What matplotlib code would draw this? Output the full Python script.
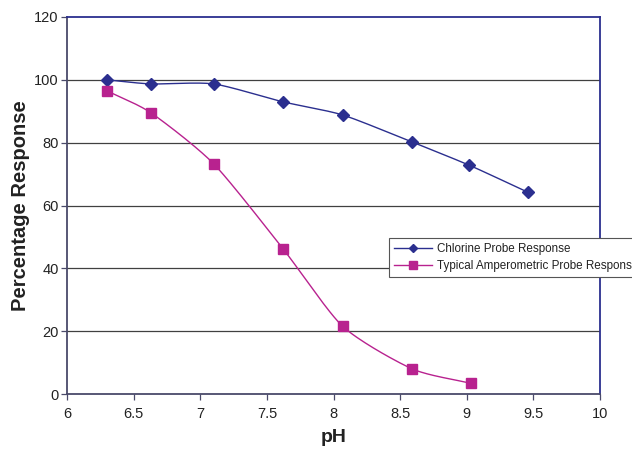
import numpy as np
import matplotlib
matplotlib.use("Agg")
import matplotlib.pyplot as plt
from matplotlib import font_manager

ph_chlorine = [6.30, 6.63, 7.10, 7.62, 8.07, 8.59, 9.02, 9.46]
resp_chlorine = [100, 98.7, 98.7, 93, 88.8, 80.2, 72.8, 64.2]
ph_amp = [6.30, 6.63, 7.10, 7.62, 8.07, 8.59, 9.03]
resp_amp = [96.5, 89.5, 73.3, 46.3, 21.5, 8.0, 3.4]

series_labels = ["Chlorine Probe Response", "Typical Amperometric Probe Response"]
xticks = [6, 6.5, 7, 7.5, 8, 8.5, 9, 9.5, 10]
yticks = [0, 20, 40, 60, 80, 100, 120]

plt.rcParams['font.family'] = ['Liberation Sans', 'DejaVu Sans']

names = {f.name for f in font_manager.fontManager.ttflist}
if 'Liberation Sans Narrow' in names:
    leg_font = dict(family='Liberation Sans Narrow', size=9.8)
else:
    leg_font = dict(family='Liberation Sans', size=8.4)


def smooth(x, y, n=30):
    x = np.asarray(x, float)
    y = np.asarray(y, float)
    px = np.concatenate([[2 * x[0] - x[1]], x, [2 * x[-1] - x[-2]]])
    py = np.concatenate([[2 * y[0] - y[1]], y, [2 * y[-1] - y[-2]]])
    xs, ys = [], []
    t = np.linspace(0, 1, n)
    for i in range(1, len(px) - 2):
        p0, p1, p2, p3 = [np.array([px[j], py[j]]) for j in range(i - 1, i + 3)]
        m1 = (p2 - p0) / 2 * 0.7
        m2 = (p3 - p1) / 2 * 0.7
        h00 = 2 * t**3 - 3 * t**2 + 1
        h10 = t**3 - 2 * t**2 + t
        h01 = -2 * t**3 + 3 * t**2
        h11 = t**3 - t**2
        pts = (np.outer(h00, p1) + np.outer(h10, m1) + np.outer(h01, p2) + np.outer(h11, m2))
        xs.extend(pts[:, 0])
        ys.extend(pts[:, 1])
    return np.array(xs), np.array(ys)


fig = plt.figure(figsize=(6.32, 4.49), dpi=100)
ax = fig.add_axes([67 / 632, 1 - 394 / 449, 533 / 632, 377 / 449])

blue = '#2B2F8F'
mag = '#B8228F'

ax.set_xlim(6, 10)
ax.set_ylim(0, 120)
ax.set_xticks(xticks)
ax.set_xticklabels([f"{v:g}" for v in xticks])
ax.set_yticks(yticks)
for v in yticks[1:-1]:
    ax.axhline(v, color='#404040', lw=0.9, zorder=1)

sx, sy = smooth(ph_chlorine, resp_chlorine)
ax.plot(sx, sy, color=blue, lw=1.0, zorder=3)
ax.plot(ph_chlorine, resp_chlorine, ls='none', marker='D', ms=6.5, color=blue, zorder=4)
sx, sy = smooth(ph_amp, resp_amp)
ax.plot(sx, sy, color=mag, lw=1.0, zorder=3)
ax.plot(ph_amp, resp_amp, ls='none', marker='s', ms=7.5, color=mag, zorder=4)

h1, = ax.plot([], [], color=blue, lw=1.0, marker='D', ms=4.5)
h2, = ax.plot([], [], color=mag, lw=1.0, marker='s', ms=5.5)

ax.spines['top'].set_color(blue)
ax.spines['right'].set_color(blue)
ax.spines['left'].set_color('#4A4A6A')
ax.spines['bottom'].set_color('#4A4A6A')
for s in ax.spines.values():
    s.set_linewidth(1.3)

ax.tick_params(axis='both', direction='out', length=4, width=0.9, colors='#4A4A6A',
               labelcolor='#222222', labelsize=10.5)
ax.tick_params(axis='y', pad=2)
ax.tick_params(axis='x', pad=5)
ax.set_xlabel('pH', fontsize=14, fontweight='bold', labelpad=6, color='#222222')
ax.set_ylabel('Percentage Response', fontsize=14.5, fontweight='bold', labelpad=3, color='#222222')

leg = fig.legend([h1, h2], series_labels, loc='upper left',
                 bbox_to_anchor=(389 / 632, 1 - 238 / 449), frameon=True,
                 fancybox=False, edgecolor='#555555', framealpha=1,
                 prop=leg_font, handlelength=3.3, handletextpad=0.45,
                 borderpad=0.4, labelspacing=0.45, borderaxespad=0)
leg.get_frame().set_linewidth(0.8)
for t in leg.get_texts():
    t.set_color('#222222')

fig.savefig('out.png', dpi=100)
